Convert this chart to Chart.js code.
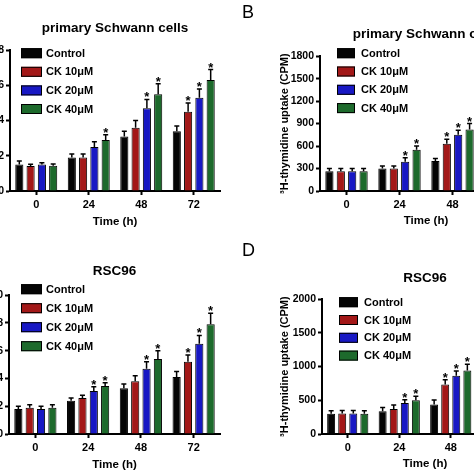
<!DOCTYPE html>
<html>
<head>
<meta charset="utf-8">
<script src="https://cdn.jsdelivr.net/npm/chart.js@4.4.0/dist/chart.umd.min.js"></script>
<style>
  html, body { margin: 0; padding: 0; background: #fff; }
  #page { position: relative; width: 474px; height: 474px; overflow: hidden; background: #fff; }
  .panel { position: absolute; }
  .tag { position: absolute; font: 18px 'Liberation Sans', Arial, sans-serif; color: #000; }
</style>
</head>
<body>
<div id="page">
  <div class="panel" style="left:-70px; top:0px; width:300px; height:237px;"><canvas id="chartA" width="300" height="237"></canvas></div>
  <div class="panel" style="left:237px; top:0px; width:320px; height:237px;"><canvas id="chartB" width="320" height="237"></canvas></div>
  <div class="panel" style="left:-70px; top:237px; width:300px; height:237px;"><canvas id="chartC" width="300" height="237"></canvas></div>
  <div class="panel" style="left:237px; top:237px; width:320px; height:237px;"><canvas id="chartD" width="320" height="237"></canvas></div>
  <div class="tag" style="left:242px; top:2px;">B</div>
  <div class="tag" style="left:242px; top:240px;">D</div>
</div>
<script>
// ---- data ----
const timeLabels = ['0', '24', '48', '72'];
const seriesNames = ['Control', 'CK 10\u03bcM', 'CK 20\u03bcM', 'CK 40\u03bcM'];

// A: primary Schwann cells, OD
const schwannOdControl = [0.15, 0.19, 0.31, 0.34];
const schwannOdCk10 = [0.142, 0.19, 0.36, 0.45];
const schwannOdCk20 = [0.15, 0.25, 0.47, 0.53];
const schwannOdCk40 = [0.144, 0.29, 0.55, 0.63];
const schwannOdErrControl = [0.02, 0.02, 0.03, 0.03];
const schwannOdErrCk10 = [0.01, 0.02, 0.04, 0.05];
const schwannOdErrCk20 = [0.01, 0.03, 0.05, 0.05];
const schwannOdErrCk40 = [0.01, 0.03, 0.06, 0.06];
const schwannOdSig = [[0, 0, 0, 0], [0, 0, 0, 1], [0, 0, 1, 1], [0, 1, 1, 1]];

// B: primary Schwann cells, 3H-thymidine
const schwannCpmControl = [265, 300, 400, 460];
const schwannCpmCk10 = [265, 300, 630, 800];
const schwannCpmCk20 = [265, 390, 750, 950];
const schwannCpmCk40 = [265, 550, 820, 1100];
const schwannCpmErrControl = [35, 35, 35, 40];
const schwannCpmErrCk10 = [35, 35, 60, 70];
const schwannCpmErrCk20 = [35, 55, 60, 70];
const schwannCpmErrCk40 = [35, 50, 80, 90];
const schwannCpmSig = [[0, 0, 0, 0], [0, 0, 1, 1], [0, 1, 1, 1], [0, 1, 1, 1]];

// C: RSC96, OD
const rscOdControl = [0.18, 0.24, 0.33, 0.41];
const rscOdCk10 = [0.19, 0.26, 0.38, 0.52];
const rscOdCk20 = [0.18, 0.31, 0.47, 0.65];
const rscOdCk40 = [0.19, 0.345, 0.54, 0.79];
const rscOdErrControl = [0.02, 0.02, 0.03, 0.04];
const rscOdErrCk10 = [0.02, 0.02, 0.04, 0.05];
const rscOdErrCk20 = [0.02, 0.03, 0.05, 0.06];
const rscOdErrCk40 = [0.02, 0.025, 0.06, 0.08];
const rscOdSig = [[0, 0, 0, 0], [0, 0, 0, 1], [0, 1, 1, 1], [0, 1, 1, 1]];

// D: RSC96, 3H-thymidine
const rscCpmControl = [300, 338, 436, 500];
const rscCpmCk10 = [304, 372, 735, 950];
const rscCpmCk20 = [304, 461, 863, 1100];
const rscCpmCk40 = [300, 500, 941, 1250];
const rscCpmErrControl = [44, 54, 69, 60];
const rscCpmErrCk10 = [45, 59, 69, 80];
const rscCpmErrCk20 = [45, 49, 73, 90];
const rscCpmErrCk40 = [45, 59, 93, 100];
const rscCpmSig = [[0, 0, 0, 0], [0, 0, 1, 1], [0, 1, 1, 1], [0, 1, 1, 1]];

// ---- style ----
const barColors = ['#050505', '#a31818', '#1818c4', '#1d6a2c'];
const fontFamily = "'Liberation Sans', Arial, sans-serif";

Chart.defaults.font.family = fontFamily;
Chart.defaults.color = '#000';

// upper error whiskers + significance stars
const errorBarPlugin = {
  id: 'errorBars',
  afterDatasetsDraw(chart) {
    const ctx = chart.ctx;
    const yScale = chart.scales.y;
    ctx.save();
    chart.data.datasets.forEach((ds, i) => {
      const meta = chart.getDatasetMeta(i);
      meta.data.forEach((bar, j) => {
        const top = yScale.getPixelForValue(ds.data[j] + ds.errors[j]);
        if (top < chart.chartArea.top - 20) return;
        ctx.strokeStyle = '#000';
        ctx.lineWidth = 1.5;
        ctx.beginPath();
        ctx.moveTo(bar.x, bar.y);
        ctx.lineTo(bar.x, top);
        ctx.moveTo(bar.x - 2.5, top);
        ctx.lineTo(bar.x + 2.5, top);
        ctx.stroke();
        if (ds.sig[j]) {
          ctx.fillStyle = '#000';
          ctx.font = 'bold 13px ' + fontFamily;
          ctx.textAlign = 'center';
          ctx.textBaseline = 'alphabetic';
          ctx.fillText('*', bar.x, top + 2);
        }
      });
    });
    ctx.restore();
  }
};

// legend drawn inside the plot area, top-left
const innerLegendPlugin = {
  id: 'innerLegend',
  afterDraw(chart, args, opts) {
    const ctx = chart.ctx;
    const area = chart.chartArea;
    ctx.save();
    ctx.font = 'bold 11px ' + fontFamily;
    ctx.textBaseline = 'middle';
    ctx.textAlign = 'left';
    chart.data.datasets.forEach((ds, i) => {
      const x = area.left + opts.dx;
      const y = area.top + opts.dy + i * opts.gap;
      ctx.fillStyle = ds.backgroundColor;
      ctx.fillRect(x, y - opts.boxH / 2, opts.boxW, opts.boxH);
      ctx.strokeStyle = '#000';
      ctx.lineWidth = 1;
      ctx.strokeRect(x + 0.5, y - opts.boxH / 2 + 0.5, opts.boxW - 1, opts.boxH - 1);
      ctx.fillStyle = '#000';
      ctx.fillText(ds.label, x + opts.boxW + opts.textGap, y + 0.5);
    });
    ctx.restore();
  }
};

function makePanel(id, p) {
  const datasets = p.values.map((vals, i) => ({
    label: seriesNames[i],
    data: vals,
    errors: p.errors[i],
    sig: p.sig[i],
    backgroundColor: barColors[i],
    borderColor: '#000',
    borderWidth: 1,
    categoryPercentage: 0.86,
    barPercentage: 0.72
  }));
  return new Chart(document.getElementById(id), {
    type: 'bar',
    data: { labels: timeLabels, datasets: datasets },
    plugins: [errorBarPlugin, innerLegendPlugin],
    options: {
      responsive: false,
      animation: false,
      layout: { padding: { left: p.padLeft || 0, right: p.padRight, top: 0, bottom: 0 } },
      scales: {
        x: {
          grid: { offset: false, drawOnChartArea: false, drawTicks: true, tickLength: 4, tickWidth: 2, tickColor: '#000' },
          border: { color: '#000', width: 2 },
          ticks: { padding: 3, font: { size: 11, weight: 'bold' }, color: '#000', maxRotation: 0 },
          title: { display: true, text: 'Time (h)', font: { size: 11.5, weight: 'bold' }, color: '#000', padding: { top: 4, bottom: p.xTitlePad } },
          afterFit(scale) { scale.height = p.xAxisH; }
        },
        y: {
          min: 0,
          max: p.yMax,
          grid: { drawOnChartArea: false, drawTicks: true, tickLength: 4, tickWidth: 2, tickColor: '#000' },
          border: { color: '#000', width: 2 },
          ticks: {
            stepSize: p.yStep,
            padding: 2,
            font: { size: 10.5, weight: 'bold' },
            color: '#000',
            callback: p.tickFmt
          },
          title: {
            display: !!p.yTitle,
            text: p.yTitle || '',
            font: { size: 11, weight: 'bold' },
            color: '#000',
            padding: { top: 0, bottom: 2 }
          },
          afterFit(scale) { scale.width = p.yAxisW; }
        }
      },
      plugins: {
        legend: { display: false },
        tooltip: { enabled: false },
        title: {
          display: true,
          fullSize: false,
          text: p.title,
          color: '#000',
          font: { size: 13.5, weight: 'bold' },
          padding: { top: p.titleTop, bottom: p.titleBottom }
        },
        innerLegend: p.legend
      }
    }
  });
}

const odFmt = v => v.toFixed(1);
const cpmFmt = v => String(v);

makePanel('chartA', {
  title: 'primary Schwann cells',
  values: [schwannOdControl, schwannOdCk10, schwannOdCk20, schwannOdCk40],
  errors: [schwannOdErrControl, schwannOdErrCk10, schwannOdErrCk20, schwannOdErrCk40],
  sig: schwannOdSig,
  yMax: 0.8, yStep: 0.2, tickFmt: odFmt,
  yAxisW: 80, xAxisH: 46, padRight: 10, xTitlePad: 8,
  titleTop: 20, titleBottom: 14,
  legend: { dx: 11, dy: 3, gap: 18.6, boxW: 21, boxH: 10, textGap: 4 }
});

makePanel('chartB', {
  title: 'primary Schwann cells',
  yTitle: '\u00b3H-thymidine uptake (CPM)',
  values: [schwannCpmControl, schwannCpmCk10, schwannCpmCk20, schwannCpmCk40],
  errors: [schwannCpmErrControl, schwannCpmErrCk10, schwannCpmErrCk20, schwannCpmErrCk40],
  sig: schwannCpmSig,
  yMax: 1800, yStep: 300, tickFmt: cpmFmt,
  padLeft: 41, yAxisW: 42, xAxisH: 46, padRight: 25, xTitlePad: 9,
  titleTop: 26, titleBottom: 14,
  legend: { dx: 17, dy: -3, gap: 18.3, boxW: 18, boxH: 10, textGap: 6 }
});

makePanel('chartC', {
  title: 'RSC96',
  values: [rscOdControl, rscOdCk10, rscOdCk20, rscOdCk40],
  errors: [rscOdErrControl, rscOdErrCk10, rscOdErrCk20, rscOdErrCk40],
  sig: rscOdSig,
  yMax: 1.0, yStep: 0.2, tickFmt: odFmt,
  yAxisW: 79, xAxisH: 40, padRight: 10, xTitlePad: 2,
  titleTop: 26, titleBottom: 16,
  legend: { dx: 12, dy: -6, gap: 19, boxW: 21, boxH: 10, textGap: 4 }
});

makePanel('chartD', {
  title: 'RSC96',
  yTitle: '\u00b3H-thymidine uptake (CPM)',
  values: [rscCpmControl, rscCpmCk10, rscCpmCk20, rscCpmCk40],
  errors: [rscCpmErrControl, rscCpmErrCk10, rscCpmErrCk20, rscCpmErrCk40],
  sig: rscCpmSig,
  yMax: 2000, yStep: 500, tickFmt: cpmFmt,
  padLeft: 41, yAxisW: 44, xAxisH: 40, padRight: 29, xTitlePad: 3,
  titleTop: 33, titleBottom: 13,
  legend: { dx: 17, dy: 3, gap: 17.8, boxW: 19, boxH: 10, textGap: 6 }
});
</script>
</body>
</html>
